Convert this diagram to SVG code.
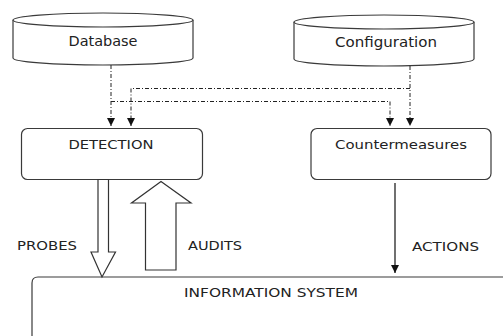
<svg xmlns="http://www.w3.org/2000/svg" width="503" height="336" viewBox="0 0 503 336">
  <style>
    .shape { fill: #ffffff; stroke: #3a3a3a; stroke-width: 1.2; }
    .label { font-family: "DejaVu Sans", Verdana, sans-serif; fill: #222222; }
    .flow { fill: none; stroke: #222222; stroke-width: 1; stroke-dasharray: 4 2 1 2; }
    .solid { fill: none; stroke: #111111; stroke-width: 1.2; }
    .hollow { fill: #ffffff; stroke: #333333; stroke-width: 1.2; stroke-linejoin: miter; }
  </style>
  <defs>
    <marker id="tri" viewBox="0 0 10 10" refX="10" refY="5" markerWidth="8" markerHeight="8" markerUnits="userSpaceOnUse" orient="auto">
      <path d="M0 0 L10 5 L0 10 z" fill="#111111"/>
    </marker>
  </defs>
  <rect width="503" height="336" fill="#ffffff"/>

  <!-- data stores -->
  <g id="database">
    <path class="shape" d="M13 20 V58 A90 7 0 0 0 193 58 V20"/>
    <ellipse class="shape" cx="103" cy="20" rx="90" ry="7"/>
    <text class="label" x="103" y="45.5" font-size="13.5" text-anchor="middle" textLength="69" lengthAdjust="spacingAndGlyphs">Database</text>
  </g>
  <g id="configuration">
    <path class="shape" d="M294 22 V59 A90 7 0 0 0 474 59 V22"/>
    <ellipse class="shape" cx="384" cy="22" rx="90" ry="7"/>
    <text class="label" x="386" y="47" font-size="13.5" text-anchor="middle" textLength="102" lengthAdjust="spacingAndGlyphs">Configuration</text>
  </g>

  <!-- processes -->
  <g id="detection">
    <rect class="shape" x="21.5" y="128.5" width="181" height="51" rx="6"/>
    <text class="label" x="111" y="148.5" font-size="11.5" text-anchor="middle" textLength="85" lengthAdjust="spacingAndGlyphs">DETECTION</text>
  </g>
  <g id="countermeasures">
    <rect class="shape" x="311" y="128.5" width="180" height="51" rx="6"/>
    <text class="label" x="401" y="148.5" font-size="12" text-anchor="middle" textLength="132" lengthAdjust="spacingAndGlyphs">Countermeasures</text>
  </g>

  <g id="information-system">
    <path class="shape" d="M32 336 V283 Q32 277 38 277 H503" fill="none"/>
    <text class="label" x="271" y="297" font-size="11.5" text-anchor="middle" textLength="174" lengthAdjust="spacingAndGlyphs">INFORMATION SYSTEM</text>
  </g>

  <!-- connectors -->
  <g id="connectors">
    <path class="flow" d="M111 65 V126" marker-end="url(#tri)"/>
    <path class="flow" d="M111 101.5 H390 V126" marker-end="url(#tri)"/>
    <path class="flow" d="M410 66 V126" marker-end="url(#tri)"/>
    <path class="flow" d="M410 88.5 H131 V126" marker-end="url(#tri)"/>

    <path class="hollow" d="M98 179.5 H108.5 V252 H115.5 L102 277 L91 252 H98 Z"/>
    <path class="hollow" d="M145.5 270 V203 H131.5 L161 181.5 L191 203 H176 V270 Z"/>

    <path class="solid" d="M395 183 V273" marker-end="url(#tri)"/>

    <text class="label" x="17" y="250" font-size="12" textLength="60" lengthAdjust="spacingAndGlyphs">PROBES</text>
    <text class="label" x="188" y="250" font-size="12" textLength="54" lengthAdjust="spacingAndGlyphs">AUDITS</text>
    <text class="label" x="412" y="251" font-size="12" textLength="67" lengthAdjust="spacingAndGlyphs">ACTIONS</text>
  </g>
</svg>
